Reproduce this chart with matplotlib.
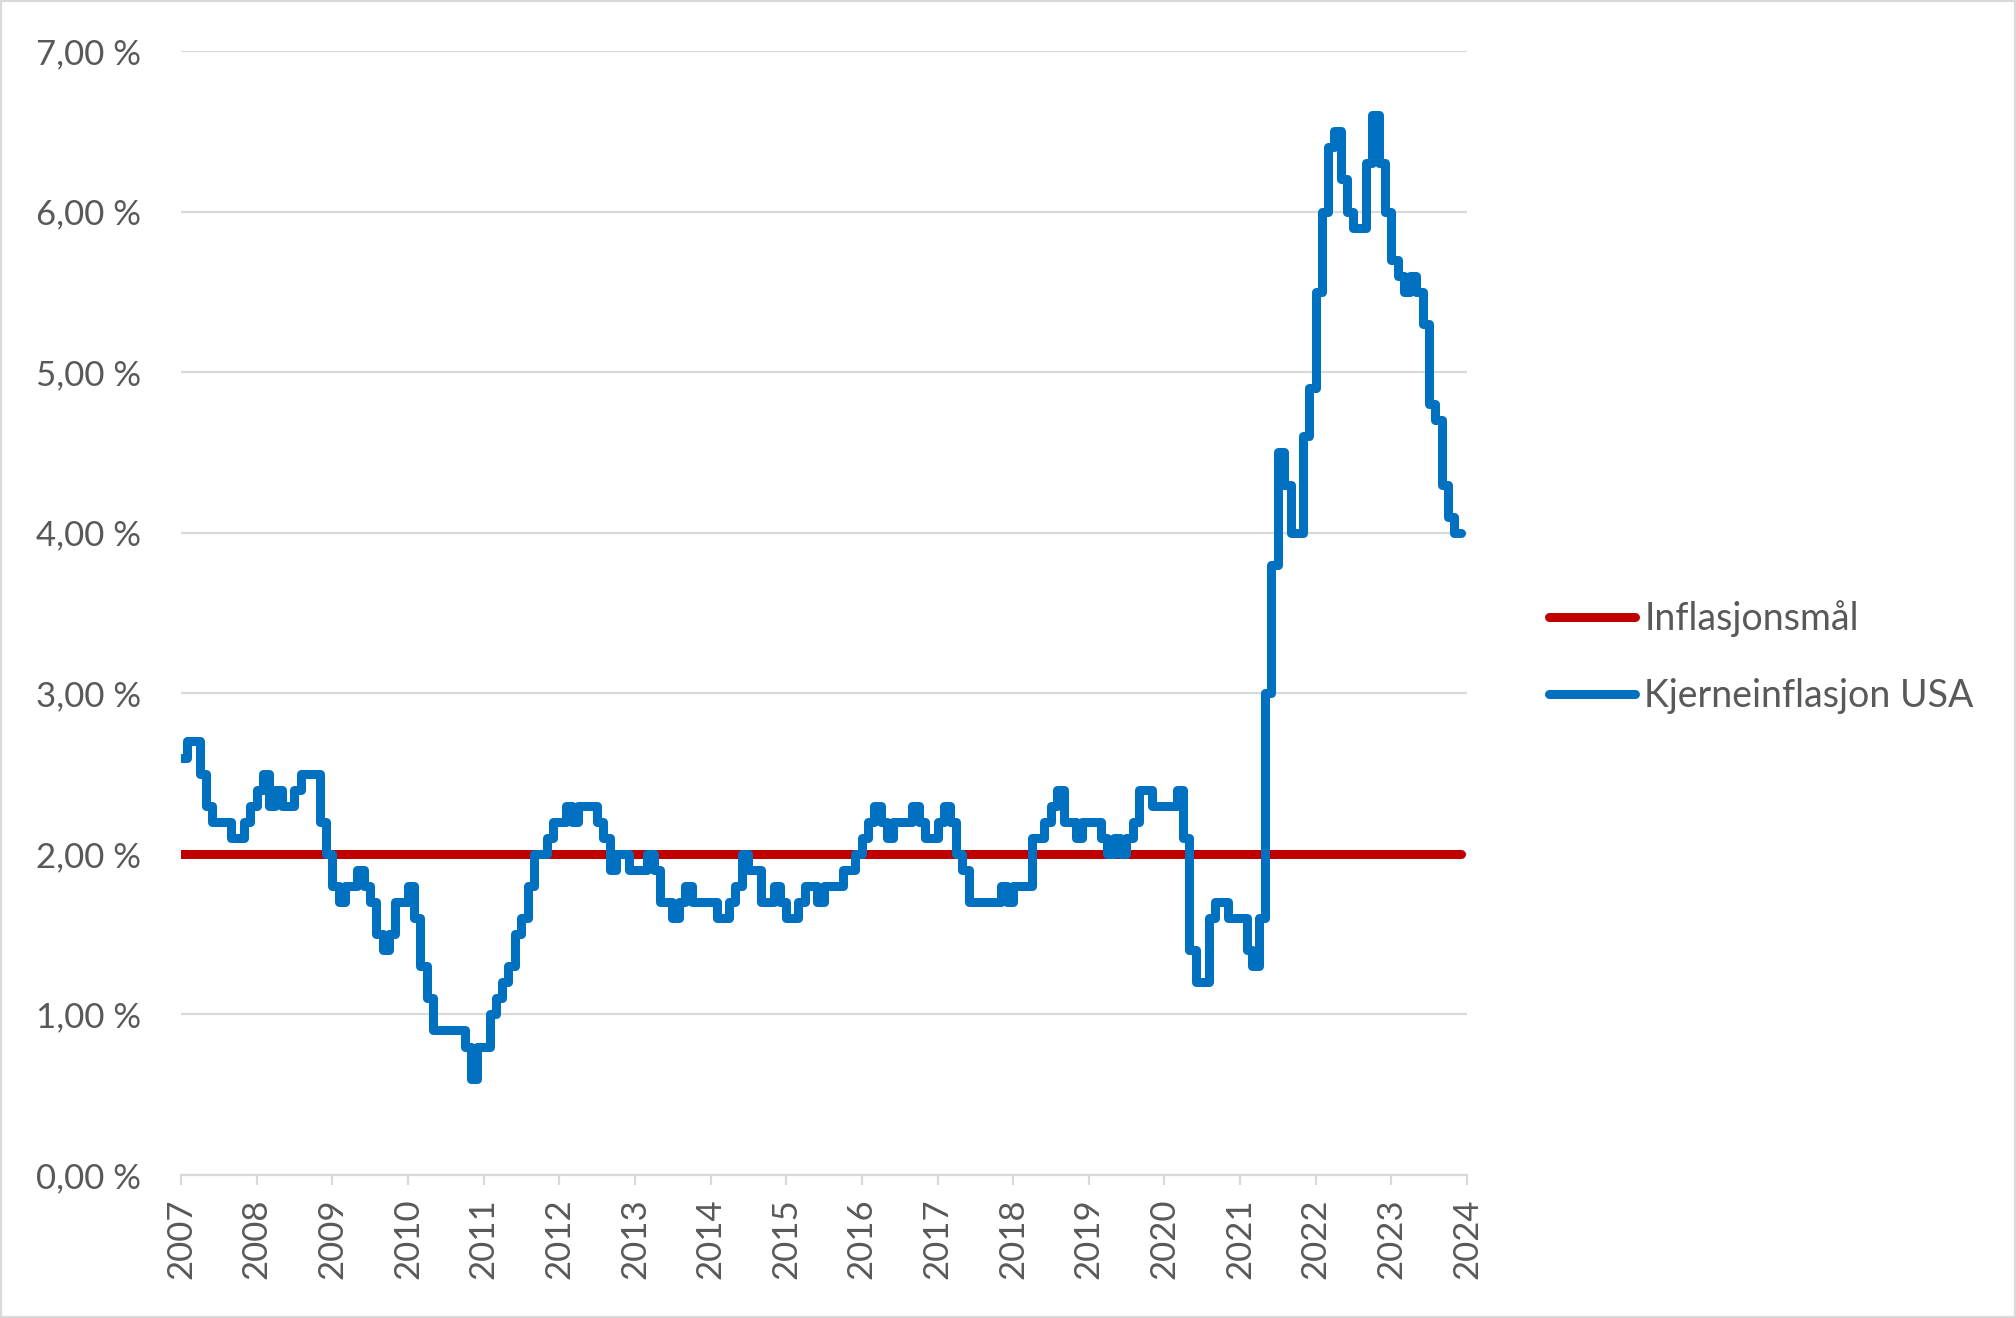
import numpy as np
import pandas as pd
import matplotlib
matplotlib.use("Agg")
import matplotlib.pyplot as plt
import matplotlib.dates as mdates
from matplotlib.patches import Rectangle

plt.rcParams['font.family'] = ['Lato', 'DejaVu Sans']

# Kjerneinflasjon USA, år/år i prosent (des 2006 - nov 2023)
core_2006 = [2.6]
core_2007 = [2.7, 2.7, 2.5, 2.3, 2.2, 2.2, 2.2, 2.1, 2.1, 2.2, 2.3, 2.4]
core_2008 = [2.5, 2.3, 2.4, 2.3, 2.3, 2.4, 2.5, 2.5, 2.5, 2.2, 2.0, 1.8]
core_2009 = [1.7, 1.8, 1.8, 1.9, 1.8, 1.7, 1.5, 1.4, 1.5, 1.7, 1.7, 1.8]
core_2010 = [1.6, 1.3, 1.1, 0.9, 0.9, 0.9, 0.9, 0.9, 0.8, 0.6, 0.8, 0.8]
core_2011 = [1.0, 1.1, 1.2, 1.3, 1.5, 1.6, 1.8, 2.0, 2.0, 2.1, 2.2, 2.2]
core_2012 = [2.3, 2.2, 2.3, 2.3, 2.3, 2.2, 2.1, 1.9, 2.0, 2.0, 1.9, 1.9]
core_2013 = [1.9, 2.0, 1.9, 1.7, 1.7, 1.6, 1.7, 1.8, 1.7, 1.7, 1.7, 1.7]
core_2014 = [1.6, 1.6, 1.7, 1.8, 2.0, 1.9, 1.9, 1.7, 1.7, 1.8, 1.7, 1.6]
core_2015 = [1.6, 1.7, 1.8, 1.8, 1.7, 1.8, 1.8, 1.8, 1.9, 1.9, 2.0, 2.1]
core_2016 = [2.2, 2.3, 2.2, 2.1, 2.2, 2.2, 2.2, 2.3, 2.2, 2.1, 2.1, 2.2]
core_2017 = [2.3, 2.2, 2.0, 1.9, 1.7, 1.7, 1.7, 1.7, 1.7, 1.8, 1.7, 1.8]
core_2018 = [1.8, 1.8, 2.1, 2.1, 2.2, 2.3, 2.4, 2.2, 2.2, 2.1, 2.2, 2.2]
core_2019 = [2.2, 2.1, 2.0, 2.1, 2.0, 2.1, 2.2, 2.4, 2.4, 2.3, 2.3, 2.3]
core_2020 = [2.3, 2.4, 2.1, 1.4, 1.2, 1.2, 1.6, 1.7, 1.7, 1.6, 1.6, 1.6]
core_2021 = [1.4, 1.3, 1.6, 3.0, 3.8, 4.5, 4.3, 4.0, 4.0, 4.6, 4.9, 5.5]
core_2022 = [6.0, 6.4, 6.5, 6.2, 6.0, 5.9, 5.9, 6.3, 6.6, 6.3, 6.0, 5.7]
core_2023 = [5.6, 5.5, 5.6, 5.5, 5.3, 4.8, 4.7, 4.3, 4.1, 4.0, 4.0]

core = (core_2006 + core_2007 + core_2008 + core_2009 + core_2010 + core_2011
        + core_2012 + core_2013 + core_2014 + core_2015 + core_2016 + core_2017
        + core_2018 + core_2019 + core_2020 + core_2021 + core_2022 + core_2023)
target = [2.0] * len(core)

# hver måned vises fra starten av måneden etter
dates = pd.date_range('2007-01-01', periods=len(core), freq='MS')
years = list(range(2007, 2025))

grey_text = '#595959'
grid_col = '#D9D9D9'

fig = plt.figure(figsize=(20.16, 13.18), dpi=100)
ax = fig.add_axes([181 / 2016, 1 - 1175 / 1318, (1467 - 181) / 2016, (1175 - 51) / 1318])

ax.plot(dates, target, color='#C00000', linewidth=6.5, solid_capstyle='round',
        label='Inflasjonsmål', zorder=3)
ax.plot(dates, np.array(core), color='#0070C0', linewidth=6.5, drawstyle='steps-post',
        solid_capstyle='round', solid_joinstyle='round',
        label='Kjerneinflasjon USA', zorder=4)

ax.set_ylim(0, 7)
ax.set_xlim(pd.Timestamp('2007-01-01'), pd.Timestamp('2024-01-01'))
ax.set_yticks(np.arange(0, 8, 1))
ax.set_yticklabels([f'{v},00 %' for v in range(8)])
ax.set_xticks([pd.Timestamp(f'{y}-01-01') for y in years])
ax.xaxis.set_major_formatter(mdates.DateFormatter('%Y'))

ax.grid(axis='y', color=grid_col, linewidth=1.6)
ax.set_axisbelow(True)
for side in ['top', 'right', 'left']:
    ax.spines[side].set_visible(False)
ax.spines['bottom'].set_color(grid_col)
ax.spines['bottom'].set_linewidth(1.6)

ax.tick_params(axis='y', length=0, pad=29, labelsize=25, labelcolor=grey_text)
ax.tick_params(axis='x', direction='out', length=7, width=1.6, color=grid_col,
               pad=10, labelsize=25, labelcolor=grey_text, labelrotation=90)

fig.legend(loc='center left', bbox_to_anchor=(1530 / 2016, 1 - 657 / 1318),
           frameon=False, fontsize=27, handlelength=2.3, handletextpad=0.25,
           labelspacing=1.1, borderpad=0, labelcolor=grey_text)

fig.patches.append(Rectangle((0, 0), 1, 1, transform=fig.transFigure, fill=False,
                             edgecolor=grid_col, linewidth=3))

plt.savefig('out.png', dpi=100)
